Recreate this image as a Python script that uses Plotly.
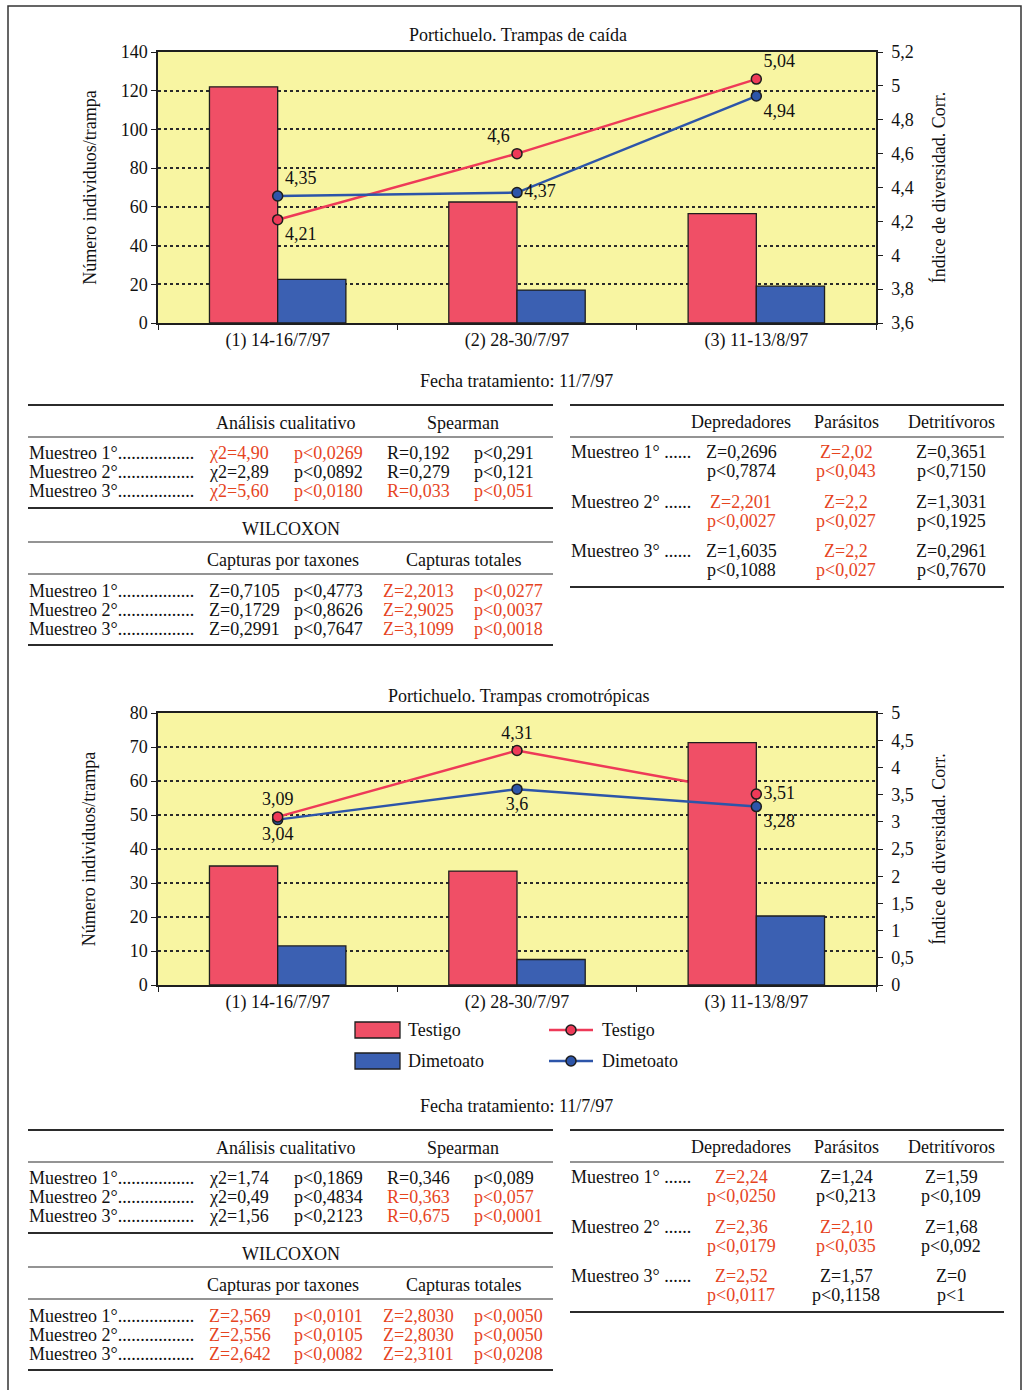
import plotly.graph_objects as go

W, H = 1027, 1390
FONT = "Liberation Serif, Times New Roman, serif"
FS = 18

# ---------------- data ----------------
categories = ["(1) 14-16/7/97", "(2) 28-30/7/97", "(3) 11-13/8/97"]

# Trampas de caída
caida_testigo = [122, 62.5, 56.5]
caida_dimetoato = [22.5, 17, 19]
caida_div_testigo = [4.21, 4.6, 5.04]
caida_div_dimetoato = [4.35, 4.37, 4.94]

# Trampas cromotrópicas
cromo_testigo = [35, 33.5, 71.3]
cromo_dimetoato = [11.5, 7.5, 20.3]
cromo_div_testigo = [3.09, 4.31, 3.51]
cromo_div_dimetoato = [3.04, 3.6, 3.28]

muestreos = ["Muestreo 1°", "Muestreo 2°", "Muestreo 3°"]
head_cual = ["Análisis cualitativo", "Spearman"]
head_wil = ["Capturas por taxones", "Capturas totales"]
head_gremio = ["Depredadores", "Parásitos", "Detritívoros"]

cual_1 = [["χ2=4,90", "p<0,0269", "R=0,192", "p<0,291"],
          ["χ2=2,89", "p<0,0892", "R=0,279", "p<0,121"],
          ["χ2=5,60", "p<0,0180", "R=0,033", "p<0,051"]]
cual_1_sig = [[1, 1, 0, 0], [0, 0, 0, 0], [1, 1, 1, 1]]
wil_1 = [["Z=0,7105", "p<0,4773", "Z=2,2013", "p<0,0277"],
         ["Z=0,1729", "p<0,8626", "Z=2,9025", "p<0,0037"],
         ["Z=0,2991", "p<0,7647", "Z=3,1099", "p<0,0018"]]
wil_1_sig = [[0, 0, 1, 1], [0, 0, 1, 1], [0, 0, 1, 1]]
grem_1 = [[("Z=0,2696", "p<0,7874"), ("Z=2,02", "p<0,043"), ("Z=0,3651", "p<0,7150")],
          [("Z=2,201", "p<0,0027"), ("Z=2,2", "p<0,027"), ("Z=1,3031", "p<0,1925")],
          [("Z=1,6035", "p<0,1088"), ("Z=2,2", "p<0,027"), ("Z=0,2961", "p<0,7670")]]
grem_1_sig = [[0, 1, 0], [1, 1, 0], [0, 1, 0]]

cual_2 = [["χ2=1,74", "p<0,1869", "R=0,346", "p<0,089"],
          ["χ2=0,49", "p<0,4834", "R=0,363", "p<0,057"],
          ["χ2=1,56", "p<0,2123", "R=0,675", "p<0,0001"]]
cual_2_sig = [[0, 0, 0, 0], [0, 0, 1, 1], [0, 0, 1, 1]]
wil_2 = [["Z=2,569", "p<0,0101", "Z=2,8030", "p<0,0050"],
         ["Z=2,556", "p<0,0105", "Z=2,8030", "p<0,0050"],
         ["Z=2,642", "p<0,0082", "Z=2,3101", "p<0,0208"]]
wil_2_sig = [[1, 1, 1, 1], [1, 1, 1, 1], [1, 1, 1, 1]]
grem_2 = [[("Z=2,24", "p<0,0250"), ("Z=1,24", "p<0,213"), ("Z=1,59", "p<0,109")],
          [("Z=2,36", "p<0,0179"), ("Z=2,10", "p<0,035"), ("Z=1,68", "p<0,092")],
          [("Z=2,52", "p<0,0117"), ("Z=1,57", "p<0,1158"), ("Z=0", "p<1")]]
grem_2_sig = [[1, 0, 0], [1, 1, 0], [1, 0, 0]]

# ---------------- styles ----------------
BG = "#f8f5a2"
RED_BAR = "#f04f66"
BLUE_BAR = "#3b60b2"
RED_LINE = "#ee3a58"
BLUE_LINE = "#2d55a9"
EDGE = "#1e1e1e"
SIG = "#e6441e"
INK = "#111111"


def px(x):
    return x / W


def py(y):
    return 1 - y / H


def fmt(vals):
    return [f"{v:g}".replace(".", ",") for v in vals]


def bar(y, color, xa, ya):
    return go.Bar(x=categories, y=y, xaxis=xa, yaxis=ya,
                  marker=dict(color=color, line=dict(color=EDGE, width=1.3)),
                  showlegend=False, hoverinfo="skip")


def series(y, color, xa, ya, pos, mode="lines+markers+text", with_text=True):
    return go.Scatter(x=categories, y=y, xaxis=xa, yaxis=ya, mode=mode,
                      text=fmt(y) if with_text else None, textposition=pos,
                      textfont=dict(family=FONT, size=FS, color=INK),
                      line=dict(color=color, width=2.5),
                      marker=dict(size=10, color=color, line=dict(color=EDGE, width=1.5)),
                      cliponaxis=False, showlegend=False, hoverinfo="skip")


fig = go.Figure()

# chart 1: bars on left axis, diversity lines on right axis
fig.add_trace(bar(caida_testigo, RED_BAR, "x", "y"))
fig.add_trace(bar(caida_dimetoato, BLUE_BAR, "x", "y"))
fig.add_trace(series(caida_div_testigo, RED_LINE, "x", "y2",
                     ["bottom right", "top left", "top right"]))
fig.add_trace(series(caida_div_dimetoato, BLUE_LINE, "x", "y2",
                     ["top right", "middle right", "bottom right"]))

# chart 2: red line drawn beneath the bars, markers and blue line above
fig.add_trace(series(cromo_div_testigo, RED_LINE, "x2", "y3", None, mode="lines", with_text=False))
fig.add_trace(bar(cromo_testigo, RED_BAR, "x2", "y4"))
fig.add_trace(bar(cromo_dimetoato, BLUE_BAR, "x2", "y4"))
fig.add_trace(series(cromo_div_dimetoato, BLUE_LINE, "x2", "y5",
                     ["bottom center", "bottom center", "bottom right"]))
fig.add_trace(series(cromo_div_testigo, RED_LINE, "x2", "y5",
                     ["top center", "top center", "middle right"], mode="markers+text"))

tickfont = dict(family=FONT, size=FS, color=INK)
axis_common = dict(showline=True, linecolor=EDGE, linewidth=1.5, ticks="outside",
                   ticklen=5, tickcolor=EDGE, tickwidth=1.2, tickfont=tickfont,
                   zeroline=False, fixedrange=True, automargin=False)
xdom = [px(158), px(876)]
grid = dict(showgrid=True, gridcolor="#2a2a2a", gridwidth=1.5, griddash="dot")
title_font = dict(family=FONT, size=FS, color=INK)

fig.update_layout(
    width=W, height=H, autosize=False,
    margin=dict(l=0, r=0, t=0, b=0, pad=0, autoexpand=False),
    paper_bgcolor="white", plot_bgcolor=BG,
    separators=",.",
    barmode="group", bargap=0.43, bargroupgap=0,
    showlegend=False,
    font=dict(family=FONT, size=FS, color=INK),
    xaxis=dict(domain=xdom, anchor="y", type="category", mirror=True,
               tickson="boundaries", showgrid=False, **axis_common),
    yaxis=dict(domain=[py(323), py(52)], anchor="x", range=[0, 140], dtick=20,
               side="left", title=dict(text="Número individuos/trampa", font=title_font, standoff=19),
               **grid, **axis_common),
    yaxis2=dict(overlaying="y", anchor="x", side="right", range=[3.6, 5.2],
                tick0=3.6, dtick=0.2, showgrid=False, ticklabelstandoff=5,
                title=dict(text="Índice de diversidad. Corr.", font=title_font, standoff=20),
                **axis_common),
    xaxis2=dict(domain=xdom, anchor="y3", type="category", mirror=True,
                tickson="boundaries", showgrid=False, **axis_common),
    yaxis3=dict(domain=[py(985), py(713)], anchor="x2", side="right", range=[0, 5],
                dtick=0.5, showgrid=False, ticklabelstandoff=5,
                title=dict(text="Índice de diversidad. Corr.", font=title_font, standoff=20),
                **axis_common),
    yaxis4=dict(overlaying="y3", anchor="x2", side="left", range=[0, 80], dtick=10,
                title=dict(text="Número individuos/trampa", font=title_font, standoff=29),
                **grid, **axis_common),
    yaxis5=dict(overlaying="y3", anchor="x2", side="right", range=[0, 5], visible=False,
                fixedrange=True),
)

shapes = []
annotations = []


def text(x, y, s, anchor="left", color=INK, size=FS):
    annotations.append(dict(x=px(x), y=py(y), xref="paper", yref="paper",
                            text=s.replace("<", "&lt;"), showarrow=False,
                            xanchor=anchor, yanchor="middle", borderpad=0,
                            font=dict(family=FONT, size=size, color=color)))


def rule(x0, x1, y, width=1.2):
    shapes.append(dict(type="line", xref="paper", yref="paper",
                       x0=px(x0), x1=px(x1), y0=py(y), y1=py(y),
                       line=dict(color="#2b2b2b", width=width)))


# outer frame
shapes.append(dict(type="rect", xref="paper", yref="paper",
                   x0=px(8), x1=px(1021), y0=py(1400), y1=py(6),
                   line=dict(color="#333333", width=1.5)))

# chart titles and treatment date
text(518, 35, "Portichuelo. Trampas de caída", "center")
text(516, 381, "Fecha tratamiento: 11/7/97", "center")
text(518, 696, "Portichuelo. Trampas cromotrópicas", "center")
text(516, 1106, "Fecha tratamiento: 11/7/97", "center")

# legend under chart 2
for yy, col, name in [(1030, RED_BAR, "Testigo"), (1061, BLUE_BAR, "Dimetoato")]:
    shapes.append(dict(type="rect", xref="paper", yref="paper",
                       x0=px(355), x1=px(400), y0=py(yy + 8), y1=py(yy - 8),
                       fillcolor=col, line=dict(color=EDGE, width=1.3)))
    text(407, yy, name)
for yy, col, name in [(1030, RED_LINE, "Testigo"), (1061, BLUE_LINE, "Dimetoato")]:
    shapes.append(dict(type="line", xref="paper", yref="paper",
                       x0=px(549), x1=px(593), y0=py(yy), y1=py(yy),
                       line=dict(color=col, width=2.5)))
    shapes.append(dict(type="circle", xref="paper", yref="paper",
                       x0=px(566), x1=px(576), y0=py(yy + 5), y1=py(yy - 5),
                       fillcolor=col, line=dict(color=EDGE, width=1.5)))
    text(601, yy, name)

LEADER = "................."


def left_table(top, cual, cual_sig, wil, wil_sig):
    x0, x1 = 28, 553
    rule(x0, x1, top, 2)
    text(285, top + 18, head_cual[0], "center")
    text(463, top + 18, head_cual[1], "center")
    rule(x0, x1, top + 32, 1.2)
    cols = [208, 293, 386, 473]
    for i in range(3):
        yy = top + 48 + 19 * i
        text(x0, yy, muestreos[i] + LEADER)
        for j in range(4):
            text(cols[j], yy, cual[i][j], color=SIG if cual_sig[i][j] else INK)
    rule(x0, x1, top + 103, 2)
    text(291, top + 124, "WILCOXON", "center")
    rule(x0, x1, top + 137, 1.2)
    text(283, top + 155, head_wil[0], "center")
    text(463, top + 155, head_wil[1], "center")
    rule(x0, x1, top + 169, 1.2)
    cols = [208, 293, 382, 473]
    for i in range(3):
        yy = top + 186 + 19 * i
        text(x0, yy, muestreos[i] + LEADER)
        for j in range(4):
            text(cols[j], yy, wil[i][j], color=SIG if wil_sig[i][j] else INK)
    rule(x0, x1, top + 240, 2)


def right_table(top, grem, grem_sig):
    x0, x1 = 570, 1004
    rule(x0, x1, top, 2)
    centers = [741, 846, 951]
    for c, h in zip(centers, head_gremio):
        text(c, top + 17, h, "center")
    rule(x0, x1, top + 32, 1.2)
    for i in range(3):
        yy = top + 47 + 49.5 * i
        text(x0, yy, muestreos[i] + " ......")
        for j in range(3):
            col = SIG if grem_sig[i][j] else INK
            text(centers[j], yy, grem[i][j][0], "center", col)
            text(centers[j], yy + 19, grem[i][j][1], "center", col)
    rule(x0, x1, top + 182, 2)


left_table(405, cual_1, cual_1_sig, wil_1, wil_1_sig)
right_table(405, grem_1, grem_1_sig)
left_table(1130, cual_2, cual_2_sig, wil_2, wil_2_sig)
right_table(1130, grem_2, grem_2_sig)

fig.update_layout(shapes=shapes, annotations=annotations)
fig.write_html("out.html")
